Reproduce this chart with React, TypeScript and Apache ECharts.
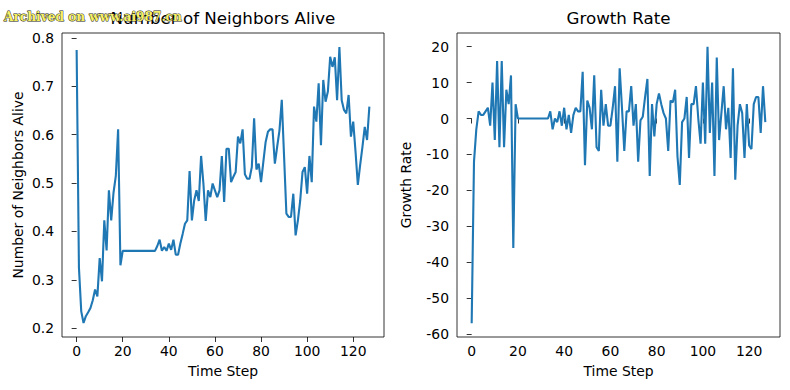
import React, { useEffect, useRef } from "react";
import * as echarts from "echarts";

const neighborsAlive: number[] = [
  0.775, 0.325, 0.235, 0.211, 0.225, 0.233, 0.242, 0.258, 0.28, 0.266,
  0.345, 0.297, 0.423, 0.361, 0.485, 0.423, 0.48, 0.515, 0.611, 0.33,
  0.36, 0.36, 0.36, 0.36, 0.36, 0.36, 0.36, 0.36, 0.36, 0.36,
  0.36, 0.36, 0.36, 0.36, 0.36, 0.37, 0.383, 0.36, 0.368, 0.36,
  0.375, 0.362, 0.383, 0.352, 0.352, 0.375, 0.395, 0.416, 0.423, 0.525,
  0.423, 0.464, 0.485, 0.463, 0.556, 0.499, 0.422, 0.485, 0.471, 0.499,
  0.485, 0.471, 0.485, 0.556, 0.461, 0.571, 0.571, 0.502, 0.513, 0.523,
  0.596, 0.582, 0.611, 0.518, 0.509, 0.509, 0.533, 0.634, 0.528, 0.54,
  0.502, 0.544, 0.585, 0.606, 0.611, 0.611, 0.54, 0.575, 0.609, 0.672,
  0.555, 0.437, 0.43, 0.43, 0.478, 0.392, 0.423, 0.464, 0.523, 0.533,
  0.478, 0.556, 0.502, 0.658, 0.627, 0.706, 0.578, 0.713, 0.668, 0.689,
  0.761, 0.74, 0.76, 0.671, 0.781, 0.671, 0.651, 0.644, 0.682, 0.596,
  0.627, 0.565, 0.496, 0.537, 0.575, 0.616, 0.589, 0.658,
];

const growthRate: number[] = [
  -57, -12, -3, 2, 1, 1, 2, 3, -2, 10,
  -6, 16, -8, 16, -8, 8, 4, 12, -36, 4,
  0, 0, 0, 0, 0, 0, 0, 0, 0, 0,
  0, 0, 0, 0, 2, -3, 0, -1, 2, -2,
  3, -3, 1, -4, 1, 3, 2, 2, 13, -13,
  5, 3, -3, 12, -8, -9, 8, -2, 4, -2,
  -2, 3, 9, -12, 14, 3, -9, 2, 2, 9,
  -2, 4, -12, -0.5, 0.5, 6, 11, -16, 4, -5,
  4, 7, 4, 1.5, 0, -9, 5, 4.5, 8, -10.5,
  -18.5, -1, 0, 6, -11, 4, 4, 9, 0, -7,
  10, -7, 20, -4, 10, -16, 17, -6, 1.5, 9,
  -3, 3, -11, 14, -17, -2, 4, 1.5, -11, 4,
  -7.5, -8.5, 4, 6, 6, -4, 9, -1,
];

const timeSteps: number[] = neighborsAlive.map((_, i) => i);
const xTicks = [0, 20, 40, 60, 80, 100, 120];
const leftYTicks = [0.2, 0.3, 0.4, 0.5, 0.6, 0.7, 0.8];
const rightYTicks = [-60, -50, -40, -30, -20, -10, 0, 10, 20];

const FONT = "DejaVu Sans";
const LINE_COLOR = "#1f77b4";

function xAxisOpt(gridIndex: number) {
  return {
    type: "value",
    gridIndex,
    min: -6.35,
    max: 133.35,
    name: "Time Step",
    nameLocation: "middle",
    nameGap: 27,
    nameTextStyle: { color: "#000", fontSize: 13.9, fontFamily: FONT },
    axisLine: { show: false },
    axisTick: {
      show: true,
      customValues: xTicks,
      length: 5,
      inside: false,
      lineStyle: { color: "#000", width: 0.8 },
    },
    axisLabel: {
      customValues: xTicks,
      color: "#000",
      fontSize: 13.9,
      fontFamily: FONT,
      margin: 7,
    },
    splitLine: { show: false },
  };
}

function yAxisOpt(
  gridIndex: number,
  min: number,
  max: number,
  ticks: number[],
  name: string,
  nameGap: number,
  fmt: (v: number) => string
) {
  return {
    type: "value",
    gridIndex,
    min,
    max,
    name,
    nameLocation: "middle",
    nameGap,
    nameTextStyle: { color: "#000", fontSize: 13.9, fontFamily: FONT },
    axisLine: { show: false },
    axisTick: {
      show: true,
      customValues: ticks,
      length: 5,
      inside: false,
      lineStyle: { color: "#000", width: 0.8 },
    },
    axisLabel: {
      customValues: ticks,
      color: "#000",
      fontSize: 13.9,
      fontFamily: FONT,
      margin: 8,
      formatter: (v: number) => fmt(v),
    },
    splitLine: { show: false },
  };
}

export default function App() {
  const ref = useRef<HTMLDivElement>(null);

  useEffect(() => {
    if (!ref.current) return;
    const chart = echarts.init(ref.current, undefined, { renderer: "svg" });
    const option: any = {
      animation: false,
      backgroundColor: "#fff",
      grid: [
        {
          left: 62,
          top: 33,
          width: 322,
          height: 304,
          show: true,
          borderColor: "#000",
          borderWidth: 0.8,
          backgroundColor: "transparent",
        },
        {
          left: 457,
          top: 33,
          width: 323,
          height: 304,
          show: true,
          borderColor: "#000",
          borderWidth: 0.8,
          backgroundColor: "transparent",
        },
      ],
      xAxis: [xAxisOpt(0), xAxisOpt(1)],
      yAxis: [
        yAxisOpt(0, 0.182, 0.81, leftYTicks, "Number of Neighbors Alive", 37, (v) => v.toFixed(1)),
        yAxisOpt(1, -60.8, 23.8, rightYTicks, "Growth Rate", 44, (v) => String(Math.round(v))),
      ],
      series: [
        {
          type: "line",
          xAxisIndex: 0,
          yAxisIndex: 0,
          showSymbol: false,
          symbol: "none",
          lineStyle: { color: LINE_COLOR, width: 2.1 },
          data: timeSteps.map((t, i) => [t, neighborsAlive[i]]),
        },
        {
          type: "line",
          xAxisIndex: 1,
          yAxisIndex: 1,
          showSymbol: false,
          symbol: "none",
          lineStyle: { color: LINE_COLOR, width: 2.1 },
          data: timeSteps.map((t, i) => [t, growthRate[i]]),
        },
      ],
      graphic: [
        {
          type: "text",
          x: 223,
          y: 18,
          z: 10,
          style: {
            text: "Number of Neighbors Alive",
            fill: "#000",
            font: `16.7px '${FONT}'`,
            textAlign: "center",
            textVerticalAlign: "middle",
          },
        },
        {
          type: "text",
          x: 618.5,
          y: 18,
          z: 10,
          style: {
            text: "Growth Rate",
            fill: "#000",
            font: `16.7px '${FONT}'`,
            textAlign: "center",
            textVerticalAlign: "middle",
          },
        },
        {
          type: "text",
          x: 4,
          y: 16,
          z: 20,
          style: {
            text: "Archived on www.ai987.cn",
            fill: "#f6f064",
            stroke: "#1a1a1a",
            lineWidth: 0.9,
            font: "bold 13.5px 'DejaVu Serif Condensed', 'DejaVu Serif'",
            textAlign: "left",
            textVerticalAlign: "middle",
          },
        },
      ],
    };
    chart.setOption(option);
    return () => chart.dispose();
  }, []);

  return (
    <div
      ref={ref}
      style={{ position: "fixed", left: 0, top: 0, width: 790, height: 390 }}
    />
  );
}
